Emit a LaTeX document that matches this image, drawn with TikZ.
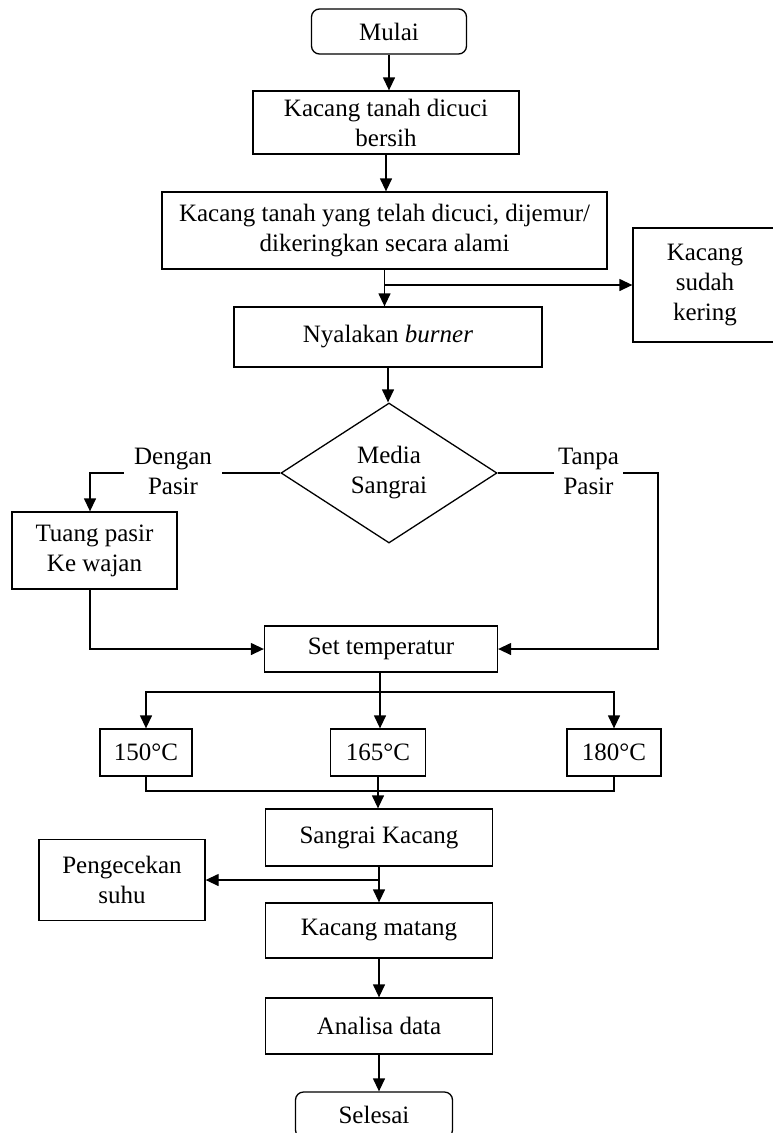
\documentclass[tikz,border=0pt]{standalone}
\usepackage{fontspec}
\setmainfont{Liberation Serif}
\usetikzlibrary{arrows.meta,shapes.geometric}
\begin{document}
\begin{tikzpicture}[x=1pt,y=-1pt,
  every node/.style={font=\fontsize{25}{30}\selectfont, line width=1.3pt, inner sep=0pt, align=center},
  box/.style={draw, rectangle},
  term/.style={draw, rectangle, rounded corners=8pt},
  decision/.style={draw, diamond, aspect=1.54},
  lbl/.style={fill=white, minimum height=56pt},
  arr/.style={line width=1.3pt, -{Triangle[length=13pt,width=12pt]}},
  ln/.style={line width=1.3pt}]
\useasboundingbox (0,0) rectangle (773,1133);
% nodes
\node[term, minimum width=155pt, minimum height=45pt] (mulai) at (389,31.5) {Mulai};
\node[box, minimum width=266pt, minimum height=63pt] (wash) at (386,122.5) {Kacang tanah dicuci\\bersih};
\node[box, minimum width=445pt, minimum height=77pt] (dry) at (384.5,230.5) {Kacang tanah yang telah dicuci, dijemur/\\dikeringkan secara alami};
\node[box, minimum width=144pt, minimum height=114pt] (kering) at (705,285) {Kacang\\sudah\\kering};
\node[box, minimum width=308pt, minimum height=60pt] (burner) at (388,337) {Nyalakan \textit{burner}};
\node[decision, minimum width=216pt, minimum height=140pt] (dia) at (389,473) {Media\\Sangrai};
\node[box, minimum width=165pt, minimum height=77pt] (tuang) at (94.5,550.5) {Tuang pasir\\Ke wajan};
\node[box, minimum width=233pt, minimum height=46pt] (settemp) at (381,649) {Set temperatur};
\node[box, minimum width=92pt, minimum height=47pt] (t150) at (146,752.5) {150°C};
\node[box, minimum width=95pt, minimum height=47pt] (t165) at (378,752.5) {165°C};
\node[box, minimum width=94pt, minimum height=47pt] (t180) at (614,752.5) {180°C};
\node[box, minimum width=227pt, minimum height=57pt] (sangrai) at (379,837.5) {Sangrai Kacang};
\node[box, minimum width=166pt, minimum height=81pt] (cek) at (122,880) {Pengecekan\\suhu};
\node[box, minimum width=227pt, minimum height=55pt] (matang) at (379,930.5) {Kacang matang};
\node[box, minimum width=227pt, minimum height=56pt] (analisa) at (379,1026) {Analisa data};
\node[term, minimum width=157pt, minimum height=46pt] (selesai) at (374,1115) {Selesai};
% coordinates
\coordinate (lc) at (90,473);
\coordinate (rc) at (658,473);
\coordinate (sp) at (380,692);
\coordinate (mg) at (378,791);
% connectors
\draw[arr] (mulai.south) -- (mulai.south |- wash.north);
\draw[arr] (wash.south) -- (wash.south |- dry.north);
\draw[arr] (dry.south) -- (dry.south |- burner.north);
\draw[arr] (dry.south |- kering.west) -- (kering.west);
\draw[arr] (burner.south) -- (burner.south |- dia.north);
\draw[arr] (dia.west) -- (lc) -- (lc |- tuang.north);
\draw[arr] (dia.east) -- (rc) |- (settemp.east);
\draw[arr] (lc |- tuang.south) |- (settemp.west);
\node[lbl, minimum width=98pt] (ldg) at (173,471) {Dengan\\Pasir};
\node[lbl, minimum width=69pt] (ltp) at (588.5,471) {Tanpa\\Pasir};
\draw[ln] (settemp.south -| sp) -- (sp);
\draw[arr] (sp) -- (sp |- t165.north);
\draw[arr] (sp) -| (t150.north);
\draw[arr] (sp) -| (t180.north);
\draw[ln] (t150.south) -- (t150.south |- mg) -- (t180.south |- mg) -- (t180.south);
\draw[arr] (t165.south) -- (t165.south |- sangrai.north);
\draw[arr] (sangrai.south) -- (matang.north);
\draw[arr] (sangrai.south |- cek.east) -- (cek.east);
\draw[arr] (matang.south) -- (analisa.north);
\draw[arr] (analisa.south) -- (analisa.south |- selesai.north);
\end{tikzpicture}
\end{document}
